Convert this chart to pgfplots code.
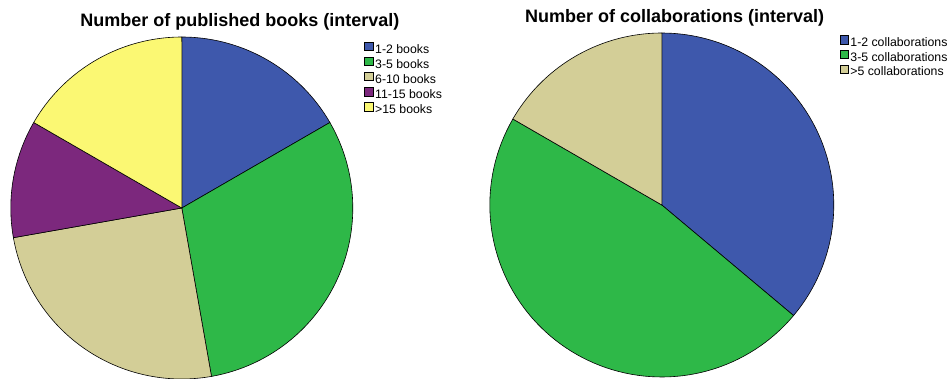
\documentclass[border=0pt]{standalone}
\usepackage{fontspec}
\setmainfont{Liberation Sans}
\usepackage{pgfplots}
\pgfplotsset{compat=1.18}
\definecolor{cblue}{RGB}{62,88,172}
\definecolor{cgreen}{RGB}{46,184,72}
\definecolor{cbeige}{RGB}{211,206,151}
\definecolor{cpurple}{RGB}{124,40,125}
\definecolor{cyellow}{RGB}{251,248,115}
\pgfplotsset{
  piestyle/.style={
    hide axis, scale only axis, clip=false,
    xmin=-1, xmax=1, ymin=-1, ymax=1,
    legend cell align=left,
    legend image code/.code={\draw[##1, draw=black, line width=0.4pt] (0pt,-0.3pt) rectangle (8.5pt,8pt);},
    every axis plot/.append style={draw=black, line width=0.6pt, samples=80, variable=\t},
    title style={font=\bfseries\fontsize{18}{21}\selectfont, anchor=base, yshift=4pt},
  },
}
\begin{document}
\begin{tikzpicture}
\useasboundingbox (0,0) rectangle (952pt,378pt);
% ---- Published books: counts 6, 11, 9, 4, 6 (total 36), clockwise from top
\begin{axis}[piestyle,
  width=342pt, height=342pt,
  at={(181.8pt,170pt)}, anchor=center,
  title={Number of published books (interval)},
  title style={at={(0.670,1)}},
  legend style={at={(1.033,0.986)}, anchor=north west, draw=none, fill=none,
    inner sep=0pt, font=\fontsize{12.3}{14}\selectfont, row sep=0.4pt,
    nodes={inner xsep=2pt, inner ysep=0.5pt, text height=9pt, text depth=3pt}},
]
\addplot[fill=cblue,   domain=0:6]   ({sin(10*\t)},{cos(10*\t)}) -- (axis cs:0,0) -- cycle;
\addlegendentry{1-2 books}
\addplot[fill=cgreen,  domain=6:17]  ({sin(10*\t)},{cos(10*\t)}) -- (axis cs:0,0) -- cycle;
\addlegendentry{3-5 books}
\addplot[fill=cbeige,  domain=17:26] ({sin(10*\t)},{cos(10*\t)}) -- (axis cs:0,0) -- cycle;
\addlegendentry{6-10 books}
\addplot[fill=cpurple, domain=26:30] ({sin(10*\t)},{cos(10*\t)}) -- (axis cs:0,0) -- cycle;
\addlegendentry{11-15 books}
\addplot[fill=cyellow, domain=30:36] ({sin(10*\t)},{cos(10*\t)}) -- (axis cs:0,0) -- cycle;
\addlegendentry{>15 books}
\end{axis}
% ---- Collaborations: counts 13, 17, 6 (total 36)
\begin{axis}[piestyle,
  width=344pt, height=344pt,
  at={(661.8pt,173pt)}, anchor=center,
  title={Number of collaborations (interval)},
  title style={at={(0.537,1)}},
  legend style={at={(1.016,0.994)}, anchor=north west, draw=none, fill=none,
    inner sep=0pt, font=\fontsize{12.3}{14}\selectfont, row sep=0pt,
    nodes={inner xsep=2pt, inner ysep=0.5pt, text height=9pt, text depth=3pt}},
]
\addplot[fill=cblue,  domain=0:13]  ({sin(10*\t)},{cos(10*\t)}) -- (axis cs:0,0) -- cycle;
\addlegendentry{1-2 collaborations}
\addplot[fill=cgreen, domain=13:30] ({sin(10*\t)},{cos(10*\t)}) -- (axis cs:0,0) -- cycle;
\addlegendentry{3-5 collaborations}
\addplot[fill=cbeige, domain=30:36] ({sin(10*\t)},{cos(10*\t)}) -- (axis cs:0,0) -- cycle;
\addlegendentry{>5 collaborations}
\end{axis}
\end{tikzpicture}
\end{document}
